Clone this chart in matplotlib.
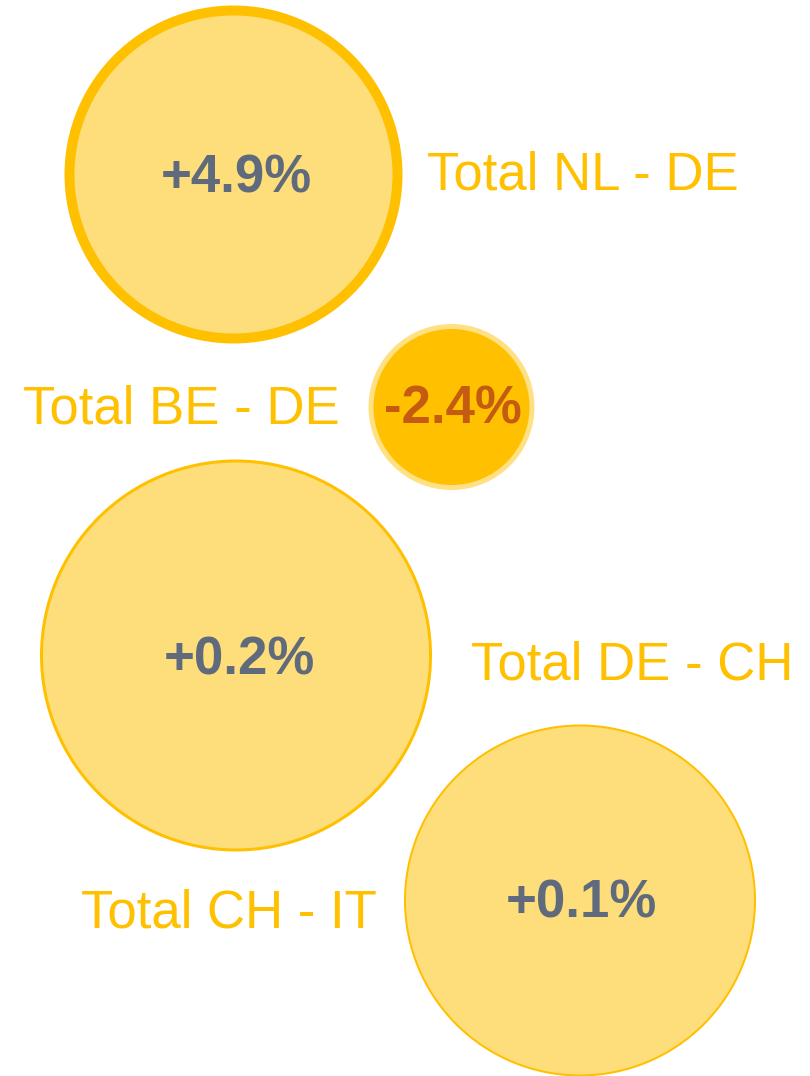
import matplotlib.pyplot as plt
from matplotlib.patches import Circle

# bubble data
routes = ['Total NL - DE', 'Total BE - DE', 'Total DE - CH', 'Total CH - IT']
changes = ['+4.9%', '-2.4%', '+0.2%', '+0.1%']
bubble_size = [169, 83, 196, 176]   # outer radius in px

# layout (pixel coords, y down)
centers = [(233.5, 174.5), (451.5, 407), (236, 655.5), (580, 900.5)]
text_pos = [(236, 192.5), (452.5, 423.5), (239.5, 674.5), (581, 918)]
label_pos = [(427, 189.5), (23, 423), (471, 680), (81, 928)]
edge_px = [10, 5, 3, 2]

fill_light = '#FEDE7A'
gold = '#FFC000'
gray = '#5F6B7C'
rust = '#C55A11'

face = [fill_light, gold, fill_light, fill_light]
edge = [gold, '#FFE083', gold, gold]
txt_col = [gray, rust, gray, gray]

fig = plt.figure(figsize=(8.10, 10.76), dpi=100)
ax = fig.add_axes([0, 0, 1, 1])
ax.set_xlim(0, 810)
ax.set_ylim(1076, 0)
ax.set_aspect('equal')
ax.axis('off')

for i in range(len(routes)):
    cx, cy = centers[i]
    r = bubble_size[i] - edge_px[i] / 2
    ax.add_patch(Circle((cx, cy), r, facecolor=face[i], edgecolor=edge[i],
                        linewidth=edge_px[i] * 0.72))
    tx, ty = text_pos[i]
    ax.text(tx, ty, changes[i], ha='center', va='baseline', fontsize=38,
            fontweight='bold', color=txt_col[i], family='Liberation Sans')
    lx, ly = label_pos[i]
    ax.text(lx, ly, routes[i], ha='left', va='baseline', fontsize=38,
            color=gold, family='Liberation Sans')

plt.savefig('out.png', dpi=100)
